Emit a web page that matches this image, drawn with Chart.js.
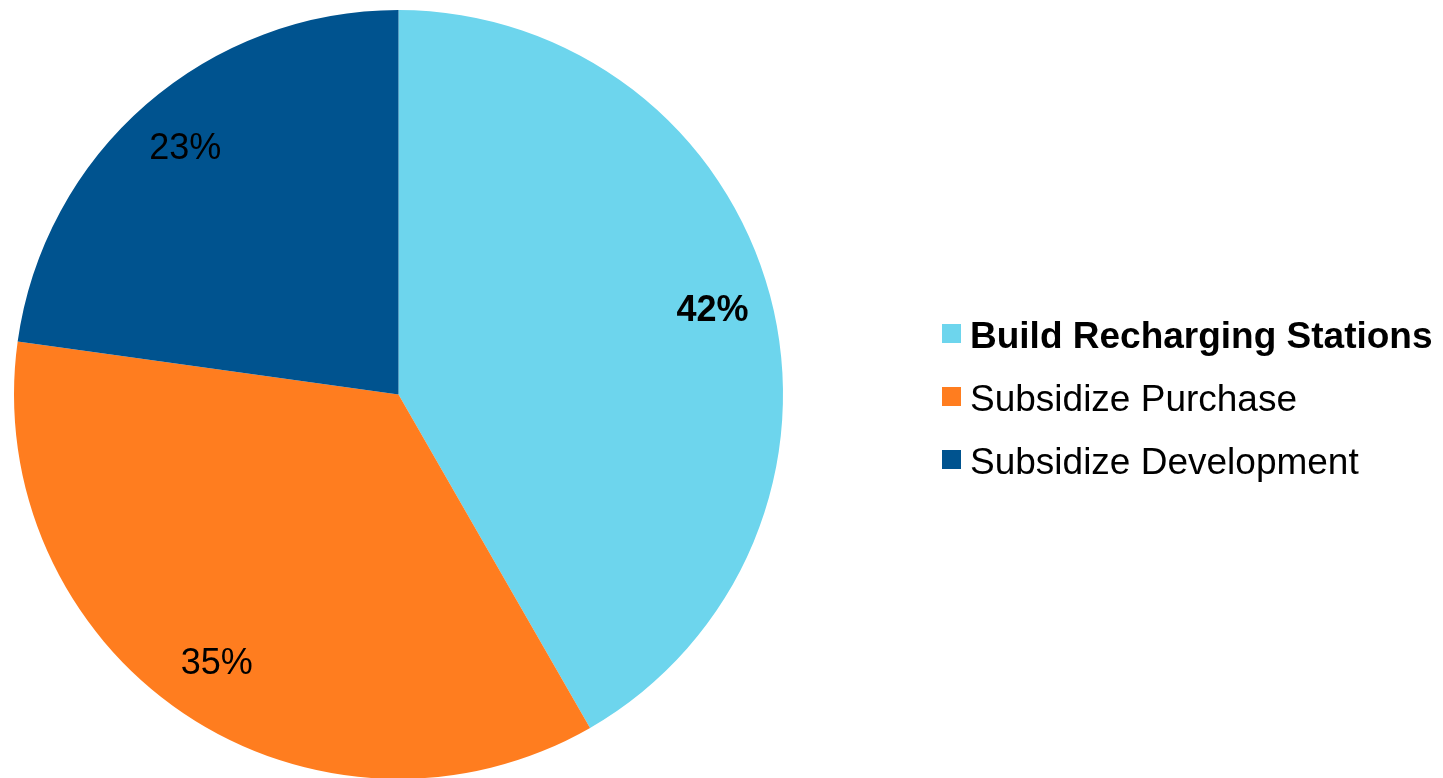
<!DOCTYPE html>
<html>
<head>
<meta charset="utf-8">
<script src="https://cdn.jsdelivr.net/npm/chart.js@4/dist/chart.umd.min.js"></script>
<style>
  html, body { margin: 0; padding: 0; background: #fff; overflow: hidden; }
  #wrap { width: 1443px; height: 790px; position: relative; }
</style>
</head>
<body>
<div id="wrap"><canvas id="chart-pie"></canvas></div>
<script>
// Données
const categories = ['Build Recharging Stations', 'Subsidize Purchase', 'Subsidize Development'];
const values = [41.7, 35.5, 22.8];
const percentLabels = ['42%', '35%', '23%'];
const colors = ['#6DD5ED', '#FF7D1F', '#00538F'];
const boldItems = [true, false, false];

const FONT = '"Liberation Sans", Arial, sans-serif';

// Étiquettes de pourcentage sur les parts
const sliceLabels = {
    id: 'sliceLabels',
    afterDatasetsDraw(chart) {
        const ctx = chart.ctx;
        const meta = chart.getDatasetMeta(0);
        ctx.save();
        ctx.textAlign = 'center';
        ctx.textBaseline = 'middle';
        ctx.fillStyle = '#000';
        meta.data.forEach((arc, i) => {
            const p = arc.getProps(['x', 'y', 'startAngle', 'endAngle', 'outerRadius'], true);
            const mid = (p.startAngle + p.endAngle) / 2;
            const r = p.outerRadius * 0.845;
            ctx.font = (boldItems[i] ? 'bold ' : '') + '36px ' + FONT;
            ctx.fillText(percentLabels[i], p.x + Math.cos(mid) * r, p.y + Math.sin(mid) * r);
        });
        ctx.restore();
    }
};

// Légende dessinée à la main (premier élément en gras)
const sideLegend = {
    id: 'sideLegend',
    afterDraw(chart) {
        const ctx = chart.ctx;
        ctx.save();
        ctx.textAlign = 'left';
        ctx.textBaseline = 'alphabetic';
        categories.forEach((label, i) => {
            const base = 348 + i * 63;
            ctx.fillStyle = colors[i];
            ctx.fillRect(942, base - 24, 19, 19);
            ctx.fillStyle = '#000';
            ctx.font = (boldItems[i] ? 'bold ' : '') + '37px ' + FONT;
            ctx.fillText(label, 970, base);
        });
        ctx.restore();
    }
};

const ctx = document.getElementById('chart-pie').getContext('2d');
new Chart(ctx, {
    type: 'pie',
    data: {
        labels: categories,
        datasets: [{
            data: values,
            backgroundColor: colors,
            borderWidth: 0
        }]
    },
    options: {
        responsive: true,
        maintainAspectRatio: false,
        animation: false,
        layout: { padding: { left: 14, top: 10, right: 660, bottom: 11 } },
        plugins: {
            legend: { display: false },
            tooltip: { enabled: false }
        }
    },
    plugins: [sliceLabels, sideLegend]
});
</script>
</body>
</html>
